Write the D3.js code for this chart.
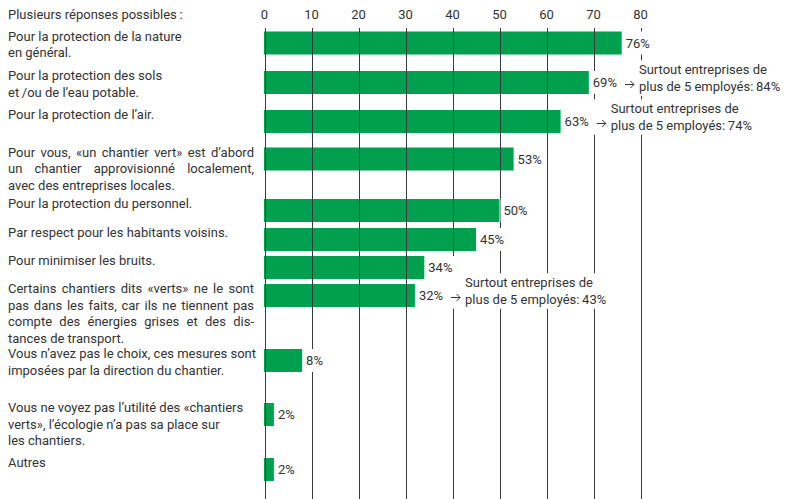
<!DOCTYPE html>
<html>
<head>
<meta charset="utf-8">
<script src="https://cdn.jsdelivr.net/npm/d3@7"></script>
<style>
  body { margin: 0; background: #fff; }
  text { font-family: Roboto, "Noto Sans", sans-serif; font-size: 13px; fill: #333; }
</style>
</head>
<body>
<svg id="chart" width="788" height="499"></svg>
<script>
// données
const header = 'Plusieurs réponses possibles\u2009:';
const tickValues = [0, 10, 20, 30, 40, 50, 60, 70, 80];
const categories = [
    ['Pour la protection de la nature', 'en général.'],
    ['Pour la protection des sols', 'et\u2009/ou de l’eau potable.'],
    ['Pour la protection de l’air.'],
    ['Pour vous, «un chantier vert» est d’abord', 'un chantier approvisionné localement,', 'avec des entreprises locales.'],
    ['Pour la protection du personnel.'],
    ['Par respect pour les habitants voisins.'],
    ['Pour minimiser les bruits.'],
    ['Certains chantiers dits «verts» ne le sont', 'pas dans les faits, car ils ne tiennent pas', 'compte des énergies grises et des dis-', 'tances de transport.'],
    ['Vous n’avez pas le choix, ces mesures sont', 'imposées par la direction du chantier.'],
    ['Vous ne voyez pas l’utilité des «chantiers', 'verts», l’écologie n’a pas sa place sur', 'les chantiers.'],
    ['Autres']
];
const values = [76, 69, 63, 53, 50, 45, 34, 32, 8, 2, 2];
const notes = [
    null,
    ['Surtout entreprises de', 'plus de 5 employés:\u200984%'],
    ['Surtout entreprises de', 'plus de 5 employés:\u200974%'],
    null, null, null, null,
    ['Surtout entreprises de', 'plus de 5 employés:\u200943%'],
    null, null, null
];

// mise en page
const green = '#00a04f';
const ink = '#333';
const lineH = 16.5;
const barH = 23;
const labelX = 8;
const justifyW = 246;
const justified = new Set([3, 7]);   // paragraphes justifiés

const svg = d3.select('#chart');

const x = d3.scaleLinear().domain([0, 80]).range([264.5, 640.5]);
const y = d3.scaleOrdinal()
    .domain(d3.range(values.length))
    .range([31.5, 71, 110, 147.5, 199, 228, 256, 284, 349, 403, 458]);

const rows = values.map((v, i) => ({ i, v, lines: categories[i], note: notes[i] }));

// en-tête
svg.append('text')
    .attr('x', labelX)
    .attr('y', 14)
    .attr('dy', '0.35em')
    .text(header);

// graduations
svg.append('g')
    .selectAll('text')
    .data(tickValues)
    .enter()
    .append('text')
    .attr('x', d => x(d))
    .attr('y', 14)
    .attr('dy', '0.35em')
    .attr('text-anchor', 'middle')
    .text(d => d);

// libellés
const labels = svg.append('g')
    .selectAll('text')
    .data(rows)
    .enter()
    .append('text')
    .attr('x', labelX)
    .attr('y', d => y(d.i) + 9)
    .attr('dy', '0.35em');

labels.selectAll('tspan')
    .data(d => d.lines.map((t, k) => ({ t, k, row: d.i, last: k === d.lines.length - 1 })))
    .enter()
    .append('tspan')
    .attr('x', labelX)
    .attr('dy', d => d.k === 0 ? 0 : lineH)
    .text(d => d.t)
    .each(function(d) {
        // justification des lignes
        if (!justified.has(d.row) || d.last) return;
        const w = this.getComputedTextLength();
        const spaces = (d.t.match(/ /g) || []).length;
        if (spaces && w < justifyW) d3.select(this).attr('word-spacing', (justifyW - w) / spaces);
    });

// barres
svg.append('g')
    .selectAll('rect')
    .data(rows)
    .enter()
    .append('rect')
    .attr('x', x(0) - 0.5)
    .attr('y', d => y(d.i))
    .attr('width', d => x(d.v) - x(0) + 0.5)
    .attr('height', barH)
    .attr('fill', green);

// lignes de grille (au-dessus des barres)
svg.append('g')
    .selectAll('line')
    .data(tickValues)
    .enter()
    .append('line')
    .attr('x1', d => Math.round(x(d)) + 0.5)
    .attr('x2', d => Math.round(x(d)) + 0.5)
    .attr('y1', 28)
    .attr('y2', 499)
    .attr('stroke', '#3a3a3a')
    .attr('stroke-width', 1);

// valeurs et remarques
const vals = svg.append('g')
    .selectAll('g')
    .data(rows)
    .enter()
    .append('g');

vals.each(function(d) {
    const g = d3.select(this);
    const cy = y(d.i) + barH / 2;
    const x0 = x(d.v) + 4;
    const bg = g.append('rect').attr('fill', '#fff');
    const t = g.append('text')
        .attr('x', x0)
        .attr('y', cy)
        .attr('dy', '0.35em')
        .text(d.v + '%');
    const w = t.node().getComputedTextLength();
    bg.attr('x', x(d.v) + 1)
        .attr('y', y(d.i))
        .attr('width', w + 5)
        .attr('height', barH);

    if (!d.note) return;
    const ax = x0 + w + 8;
    const nbg = g.append('rect').attr('fill', '#fff');
    // flèche
    const ay = Math.round(cy) + 1.5;
    g.append('path')
        .attr('d', `M${ax},${ay}H${ax + 9}M${ax + 5.5},${ay - 3.5}L${ax + 9},${ay}L${ax + 5.5},${ay + 3.5}`)
        .attr('fill', 'none')
        .attr('stroke', ink)
        .attr('stroke-width', 1);
    const nx = ax + 14;
    const nt = g.append('text')
        .attr('x', nx)
        .attr('y', cy - lineH / 2)
        .attr('dy', '0.35em');
    nt.selectAll('tspan')
        .data(d.note)
        .enter()
        .append('tspan')
        .attr('x', nx)
        .attr('dy', (s, k) => k === 0 ? 0 : lineH)
        .text(s => s);
    const bb = nt.node().getBBox();
    nbg.attr('x', ax - 4)
        .attr('y', bb.y - 2)
        .attr('width', bb.x + bb.width - ax + 8)
        .attr('height', bb.height + 4);
});
</script>
</body>
</html>
